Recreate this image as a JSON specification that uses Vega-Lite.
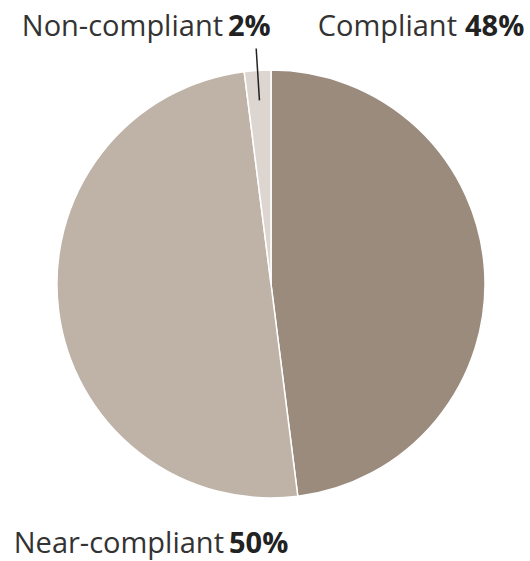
{
  "$schema": "https://vega.github.io/schema/vega-lite/v6.json",
  "width": 518,
  "height": 554,
  "autosize": {"type": "none"},
  "padding": {"left": 12, "top": 7, "right": 0, "bottom": 0},
  "background": "white",
  "config": {
    "view": {"stroke": null},
    "text": {"font": "Open Sans", "fontSize": 29}
  },
  "data": {
    "values": [
      {"category": "Compliant", "share": 0.48, "rank": 1},
      {"category": "Near-compliant", "share": 0.50, "rank": 2},
      {"category": "Non-compliant", "share": 0.02, "rank": 3}
    ]
  },
  "layer": [
    {
      "mark": {"type": "arc", "radius": 214, "stroke": "white", "strokeWidth": 1.5},
      "encoding": {
        "theta": {"field": "share", "type": "quantitative", "stack": true},
        "order": {"field": "rank", "type": "quantitative"},
        "color": {
          "field": "category",
          "type": "nominal",
          "scale": {
            "domain": ["Compliant", "Near-compliant", "Non-compliant"],
            "range": ["#9a8b7d", "#bfb2a6", "#ddd5cf"]
          },
          "legend": null
        }
      }
    },
    {
      "mark": {
        "type": "arc",
        "filled": false,
        "radius": 236,
        "radius2": 184,
        "padAngle": 0.3,
        "stroke": "#222222",
        "strokeWidth": 1.5
      },
      "encoding": {
        "theta": {"field": "share", "type": "quantitative", "stack": true},
        "order": {"field": "rank", "type": "quantitative"},
        "opacity": {
          "condition": {"test": "datum.category === 'Non-compliant'", "value": 1},
          "value": 0
        }
      }
    },
    {
      "transform": [{"filter": "datum.category === 'Non-compliant'"}],
      "mark": {"type": "text", "align": "right", "baseline": "alphabetic", "dx": -48, "dy": -248, "color": "#333333"},
      "encoding": {"text": {"field": "category", "type": "nominal"}}
    },
    {
      "transform": [{"filter": "datum.category === 'Non-compliant'"}],
      "mark": {"type": "text", "align": "left", "baseline": "alphabetic", "dx": -43, "dy": -248, "fontWeight": "bold", "color": "#222222"},
      "encoding": {"text": {"field": "share", "type": "quantitative", "format": ".0%"}}
    },
    {
      "transform": [{"filter": "datum.category === 'Compliant'"}],
      "mark": {"type": "text", "align": "right", "baseline": "alphabetic", "dx": 186, "dy": -248, "color": "#333333"},
      "encoding": {"text": {"field": "category", "type": "nominal"}}
    },
    {
      "transform": [{"filter": "datum.category === 'Compliant'"}],
      "mark": {"type": "text", "align": "left", "baseline": "alphabetic", "dx": 194, "dy": -248, "fontWeight": "bold", "color": "#222222"},
      "encoding": {"text": {"field": "share", "type": "quantitative", "format": ".0%"}}
    },
    {
      "transform": [{"filter": "datum.category === 'Near-compliant'"}],
      "mark": {"type": "text", "align": "right", "baseline": "alphabetic", "dx": -47, "dy": 269, "color": "#333333"},
      "encoding": {"text": {"field": "category", "type": "nominal"}}
    },
    {
      "transform": [{"filter": "datum.category === 'Near-compliant'"}],
      "mark": {"type": "text", "align": "left", "baseline": "alphabetic", "dx": -42, "dy": 269, "fontWeight": "bold", "color": "#222222"},
      "encoding": {"text": {"field": "share", "type": "quantitative", "format": ".0%"}}
    }
  ]
}
